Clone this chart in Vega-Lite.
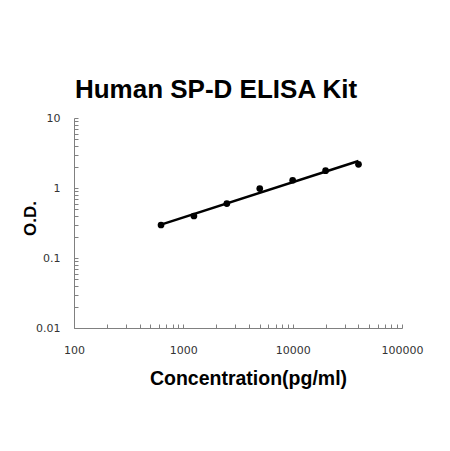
{
  "$schema": "https://vega.github.io/schema/vega-lite/v6.json",
  "autosize": "none",
  "padding": {"left": 74, "top": 118, "right": 48, "bottom": 123},
  "width": 328,
  "height": 210,
  "background": "white",
  "title": {
    "text": "Human SP-D ELISA Kit",
    "font": "Liberation Sans",
    "fontSize": 26,
    "fontWeight": "bold",
    "color": "black",
    "anchor": "middle",
    "frame": "group",
    "dx": -22,
    "offset": 9
  },
  "datasets": {
    "standards": [
      {"conc": 625, "od": 0.296},
      {"conc": 1250, "od": 0.398},
      {"conc": 2500, "od": 0.60},
      {"conc": 5000, "od": 0.98},
      {"conc": 10000, "od": 1.29},
      {"conc": 20000, "od": 1.77},
      {"conc": 40000, "od": 2.18}
    ],
    "fit": [
      {"conc": 625, "od": 0.30},
      {"conc": 40000, "od": 2.43}
    ]
  },
  "layer": [
    {
      "data": {"name": "fit"},
      "mark": {"type": "line", "color": "black", "strokeWidth": 2.5},
      "encoding": {
        "x": {"field": "conc", "type": "quantitative"},
        "y": {"field": "od", "type": "quantitative"}
      }
    },
    {
      "data": {"name": "standards"},
      "mark": {"type": "point", "filled": true, "color": "black", "size": 45, "opacity": 1},
      "encoding": {
        "x": {
          "field": "conc", "type": "quantitative",
          "scale": {"type": "log", "domain": [100, 100000], "nice": false},
          "axis": {
            "title": "Concentration(pg/ml)",
            "values": [100, 200, 300, 400, 500, 600, 700, 800, 900, 1000, 2000, 3000, 4000, 5000, 6000, 7000, 8000, 9000, 10000, 20000, 30000, 40000, 50000, 60000, 70000, 80000, 90000, 100000],
            "labelExpr": "indexof(['100','1000','10000','100000'], '' + datum.value) >= 0 ? '' + datum.value : ''",
            "tickSize": -4,
            "labelPadding": 20,
            "labelFlush": false,
            "labelOverlap": false,
            "titleX": 174,
            "titleY": 56,
            "titleFontSize": 19.5,
            "titleBaseline": "alphabetic",
            "titleAnchor": null,
            "titleAlign": "center"
          }
        },
        "y": {
          "field": "od", "type": "quantitative",
          "scale": {"type": "log", "domain": [0.01, 10], "nice": false},
          "axis": {
            "title": "O.D.",
            "values": [0.01, 0.02, 0.03, 0.04, 0.05, 0.06, 0.07, 0.08, 0.09, 0.1, 0.2, 0.3, 0.4, 0.5, 0.6, 0.7, 0.8, 0.9, 1, 2, 3, 4, 5, 6, 7, 8, 9, 10],
            "labelExpr": "indexof(['0.01','0.1','1','10'], '' + datum.value) >= 0 ? '' + datum.value : ''",
            "tickSize": -4,
            "labelPadding": 18,
            "labelFlush": false,
            "labelOverlap": false,
            "titleX": -44,
            "titleY": 100,
            "titleAngle": -90,
            "titleBaseline": "middle",
            "titleAnchor": null,
            "titleAlign": "center"
          }
        }
      }
    }
  ],
  "config": {
    "view": {"stroke": null},
    "axis": {
      "grid": false,
      "domainColor": "#808080",
      "domainWidth": 1,
      "tickColor": "#808080",
      "tickWidth": 1,
      "labelFont": "DejaVu Sans",
      "labelFontSize": 11,
      "labelColor": "#333333",
      "titleFont": "Liberation Sans",
      "titleFontSize": 17,
      "titleFontWeight": "bold",
      "titleColor": "black"
    }
  }
}
